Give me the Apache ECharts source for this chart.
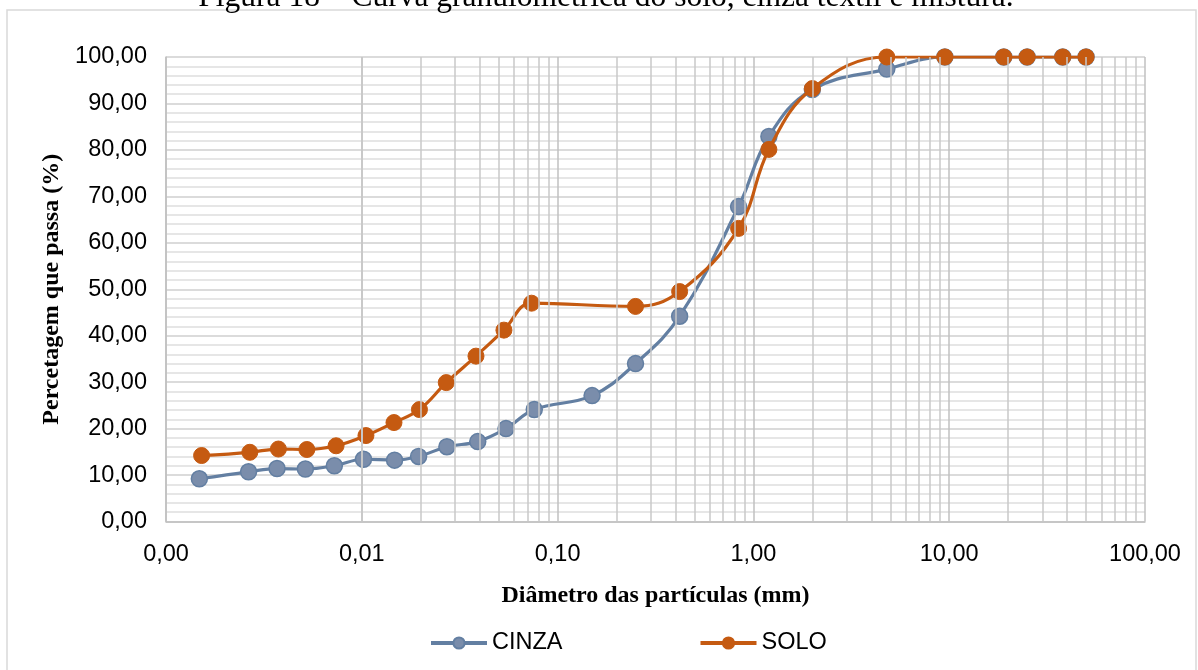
<!DOCTYPE html>
<html>
<head>
<meta charset="utf-8">
<script src="https://cdn.jsdelivr.net/npm/echarts@6/dist/echarts.min.js"></script>
<style>
html,body{margin:0;padding:0;background:#fff;}
#c{width:1198px;height:670px;}
</style>
</head>
<body>
<div id="c"></div>
<script>
// ---- data ----
const cinzaDiam = [0.00148, 0.00264, 0.00369, 0.00515, 0.00724, 0.0102, 0.0147, 0.0195, 0.0272, 0.0391, 0.0545, 0.076, 0.15, 0.25, 0.42, 0.84, 1.2, 2.0, 4.8, 9.5, 19, 25, 38, 50];
const cinzaPass = [9.2, 10.7, 11.4, 11.3, 12.0, 13.4, 13.2, 14.0, 16.1, 17.2, 20.0, 24.1, 27.1, 34.0, 44.2, 67.8, 82.9, 93.0, 97.4, 100, 100, 100, 100, 100];
const soloDiam = [0.00152, 0.00268, 0.00375, 0.00524, 0.00739, 0.0105, 0.0146, 0.0197, 0.027, 0.0383, 0.0532, 0.0736, 0.25, 0.42, 0.84, 1.2, 2.0, 4.8, 9.5, 19, 25, 38, 50];
const soloPass = [14.2, 14.9, 15.6, 15.5, 16.3, 18.5, 21.3, 24.1, 29.9, 35.6, 41.2, 47.0, 46.3, 49.5, 63.1, 80.1, 93.2, 100, 100, 100, 100, 100, 100];
const seriesNames = ['CINZA', 'SOLO'];
const titleText = 'Figura 18 – Curva granulométrica do solo, cinza têxtil e mistura.';
const xAxisName = 'Diâmetro das partículas (mm)';
const yAxisName = 'Percetagem que passa (%)';
// minor log gridline positions (2..9 within each decade)
const minorDecades = [0.001, 0.01, 0.1, 1, 10];
const minorMultipliers = [2, 3, 4, 5, 6, 7, 8, 9];

const minorLines = [];
minorDecades.forEach(d => minorMultipliers.forEach(m => minorLines.push({xAxis: +(d * m).toPrecision(3)})));

const zip = (xs, ys) => xs.map((x, i) => [x, ys[i]]);
const fmt = v => Number(v).toFixed(2).replace('.', ',');

const chart = echarts.init(document.getElementById('c'), null, {renderer: 'canvas'});
chart.setOption({
  animation: false,
  backgroundColor: '#fff',
  graphic: [
    {type: 'rect', shape: {x: 7, y: 10, width: 1189, height: 700}, style: {fill: 'none', stroke: '#d9d9d9', lineWidth: 1.5}, z: 0},
    {type: 'text', x: 606, y: -2, style: {text: titleText, font: '31.5px "Liberation Serif"', fill: '#000', align: 'center', verticalAlign: 'middle'}, z: 10}
  ],
  grid: {left: 166, right: 53, top: 57, bottom: 148.5},
  legend: {
    left: 424, top: 626,
    itemWidth: 56, itemHeight: 14, itemGap: 136,
    lineStyle: {width: 4},
    textStyle: {fontFamily: '"Liberation Sans", Arial', fontSize: 23.5, color: '#000'},
    data: seriesNames
  },
  xAxis: {
    type: 'log', logBase: 10, min: 0.001, max: 100,
    name: xAxisName, nameLocation: 'middle', nameGap: 62,
    nameTextStyle: {fontFamily: '"Liberation Serif"', fontWeight: 'bold', fontSize: 24, color: '#000'},
    axisLine: {show: true, lineStyle: {color: '#c0c0c0', width: 1.5}},
    axisTick: {show: false},
    axisLabel: {formatter: fmt, fontFamily: '"Liberation Sans", Arial', fontSize: 23.5, color: '#000', margin: 21},
    splitLine: {show: true, lineStyle: {color: '#c0c0c0', width: 1.5}}
  },
  yAxis: {
    type: 'value', min: 0, max: 100, interval: 10,
    name: yAxisName, nameLocation: 'middle', nameGap: 102,
    nameTextStyle: {fontFamily: '"Liberation Serif"', fontWeight: 'bold', fontSize: 24, color: '#000'},
    axisLine: {show: true, lineStyle: {color: '#c0c0c0', width: 1.5}},
    axisTick: {show: false},
    axisLabel: {formatter: fmt, fontFamily: '"Liberation Sans", Arial', fontSize: 23.5, color: '#000', margin: 19},
    splitLine: {show: true, lineStyle: {color: '#cfcfcf', width: 1.5}},
    minorTick: {show: false, splitNumber: 5},
    minorSplitLine: {show: true, lineStyle: {color: '#dedede', width: 1.5}}
  },
  series: [
    {
      type: 'line', name: 'gridminor', data: [], silent: true, z: 1,
      markLine: {silent: true, symbol: ['none', 'none'], label: {show: false},
        lineStyle: {color: '#c8c8c8', type: 'solid', width: 1.5}, emphasis: {disabled: true}, data: minorLines}
    },
    {
      type: 'line', name: seriesNames[0], data: zip(cinzaDiam, cinzaPass), smooth: 0.4,
      symbol: 'circle', symbolSize: 16, z: 3,
      lineStyle: {color: '#637fa2', width: 3.2},
      itemStyle: {color: '#7a8dab', borderColor: '#637fa2', borderWidth: 1.5}
    },
    {
      type: 'line', name: seriesNames[1], data: zip(soloDiam, soloPass), smooth: 0.4,
      symbol: 'circle', symbolSize: 16, z: 4,
      lineStyle: {color: '#c55a11', width: 3.2},
      itemStyle: {color: '#c55a11', borderColor: '#c55a11', borderWidth: 1}
    }
  ]
});
</script>
</body>
</html>
